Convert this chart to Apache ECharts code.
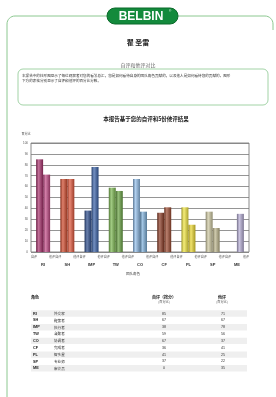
<!DOCTYPE html>
<html>
<head>
<meta charset="utf-8">
<script src="https://cdn.jsdelivr.net/npm/echarts@6/dist/echarts.min.js"></script>
<style>
html,body{margin:0;padding:0;background:#fff}
#main{width:276px;height:397px}
</style>
</head>
<body>
<div id="main"></div>
<script>
// 数据
var roles = ['RI', 'SH', 'IMP', 'TW', 'CO', 'CF', 'PL', 'SP', 'ME'];
var roleNames = ['外交家', '鞭策者', '执行者', '凝聚者', '协调者', '完成者', '智多星', '专业师', '审议员'];
var selfScores = [85, 67, 38, 59, 67, 36, 41, 37, 0];
var otherScores = [71, 67, 78, 56, 37, 41, 25, 22, 35];
var selfColors = ['#a8306c', '#d04a2c', '#2c4c8c', '#7cb850', '#90bce8', '#8a3a24', '#f2e640', '#cfc9a2', '#b4acd4'];
var otherColors = ['#c04884', '#e0563a', '#3a62a8', '#6aa444', '#7caed8', '#9c4a30', '#ecd830', '#bdb68c', '#b4acd4'];

var CJK = '"Noto Sans CJK SC", sans-serif';
var green = '#8cc890';

function shade(hex, p) {
  var n = parseInt(hex.slice(1), 16);
  var r = n >> 16, g = (n >> 8) & 255, b = n & 255;
  function f(c) { return Math.round(p < 0 ? c * (1 + p) : c + (255 - c) * p); }
  return 'rgb(' + f(r) + ',' + f(g) + ',' + f(b) + ')';
}
function cyl(c) {
  return new echarts.graphic.LinearGradient(0, 0, 1, 0, [
    {offset: 0, color: shade(c, -0.35)},
    {offset: 0.35, color: shade(c, 0.3)},
    {offset: 1, color: shade(c, -0.3)}
  ]);
}

// 圆角折线
function corner(cx, cy, r, a0, a1) {
  var pts = [];
  for (var k = 0; k <= 8; k++) {
    var a = a0 + (a1 - a0) * k / 8;
    pts.push([cx + r * Math.cos(a), cy + r * Math.sin(a)]);
  }
  return pts;
}
var framePts = [[7, 397]].concat(corner(15, 24, 8, Math.PI, Math.PI * 1.5)).concat([[107, 16]]);
var framePts2 = [[178, 16]].concat(corner(265, 24, 8, Math.PI * 1.5, Math.PI * 2)).concat([[273, 30]]);

var graphics = [
  {type: 'polyline', shape: {points: framePts}, style: {stroke: green, lineWidth: 1, fill: null}},
  {type: 'polyline', shape: {points: framePts2}, style: {stroke: green, lineWidth: 1, fill: null}},
  {type: 'rect', shape: {x: 107, y: 8, width: 71, height: 16, r: 8}, style: {fill: '#138a3c', stroke: '#0b6a2a', lineWidth: 1}},
  {type: 'text', x: 141, y: 16.5, style: {text: 'BELBIN', fill: '#fff', font: 'bold 12px "Liberation Sans", Arial', align: 'center', verticalAlign: 'middle'}},
  {type: 'text', x: 169, y: 11, style: {text: '®', fill: '#fff', font: '3px "Liberation Sans"', align: 'left', verticalAlign: 'middle'}},
  {type: 'text', x: 138, y: 42, style: {text: '瞿 圣雷', fill: '#222', font: 'bold 7px ' + CJK, align: 'center', verticalAlign: 'middle'}},
  {type: 'text', x: 138, y: 65, style: {text: '自评和他评对比', fill: '#666', font: '5px ' + CJK, align: 'center', verticalAlign: 'middle'}},
  {type: 'rect', shape: {x: 18, y: 69, width: 250, height: 36, r: 5}, style: {fill: null, stroke: green, lineWidth: 0.8}},
  {type: 'text', x: 22, y: 76, style: {text: '本报告中的柱形图显示了每位观察者对您的看法总汇，您是如何看待自身的团队角色贡献的，以及他人是如何看待您的贡献的。图形', fill: '#333', font: '3.6px ' + CJK, align: 'left', verticalAlign: 'middle'}},
  {type: 'text', x: 22, y: 81, style: {text: '下方的表格分别显示了自评和他评的百分比分数。', fill: '#333', font: '3.6px ' + CJK, align: 'left', verticalAlign: 'middle'}},
  {type: 'text', x: 146, y: 119, style: {text: '本报告基于您的自评和5份他评结果', fill: '#222', font: 'bold 5.5px ' + CJK, align: 'center', verticalAlign: 'middle'}},
  {type: 'text', x: 26, y: 134, style: {text: '百分比', fill: '#444', font: '3px ' + CJK, align: 'center', verticalAlign: 'middle'}},
  {type: 'text', x: 133, y: 274, style: {text: '团队角色', fill: '#444', font: '3.5px ' + CJK, align: 'center', verticalAlign: 'middle'}},
  // 表头
  {type: 'text', x: 31, y: 297, style: {text: '角色', fill: '#222', font: 'bold 4px ' + CJK, align: 'left', verticalAlign: 'middle'}},
  {type: 'text', x: 164, y: 297, style: {text: '自评（按分）', fill: '#222', font: 'bold 4px ' + CJK, align: 'center', verticalAlign: 'middle'}},
  {type: 'text', x: 164, y: 302, style: {text: '(百分比)', fill: '#555', font: '3.2px ' + CJK, align: 'center', verticalAlign: 'middle'}},
  {type: 'text', x: 222, y: 297, style: {text: '他评', fill: '#222', font: 'bold 4px ' + CJK, align: 'center', verticalAlign: 'middle'}},
  {type: 'text', x: 222, y: 302, style: {text: '(百分比)', fill: '#555', font: '3.2px ' + CJK, align: 'center', verticalAlign: 'middle'}}
];

// 表格行
roles.forEach(function (r, i) {
  var y = 313.5 + i * 6.85;
  if (i % 2 === 0) {
    graphics.push({type: 'rect', z: -1, shape: {x: 31, y: y - 3.2, width: 216, height: 6.4}, style: {fill: '#efefef'}});
  }
  graphics.push({type: 'text', x: 33, y: y, style: {text: r, fill: '#222', font: 'bold 3.8px "Liberation Sans"', align: 'left', verticalAlign: 'middle'}});
  graphics.push({type: 'text', x: 54, y: y, style: {text: roleNames[i], fill: '#333', font: '3.6px ' + CJK, align: 'left', verticalAlign: 'middle'}});
  graphics.push({type: 'text', x: 164, y: y, style: {text: String(selfScores[i]), fill: '#333', font: '3.6px "Liberation Sans"', align: 'center', verticalAlign: 'middle'}});
  graphics.push({type: 'text', x: 223, y: y, style: {text: String(otherScores[i]), fill: '#333', font: '3.6px "Liberation Sans"', align: 'center', verticalAlign: 'middle'}});
});

var myChart = echarts.init(document.getElementById('main'), null, {renderer: 'canvas'});

var option = {
  animation: false,
  backgroundColor: '#fff',
  grid: {left: 31, top: 143, width: 218, height: 109, show: true, borderColor: '#8a8a8a', borderWidth: 1, backgroundColor: '#fff'},
  xAxis: [{
    type: 'category',
    data: roles,
    axisLine: {show: false},
    axisTick: {show: false},
    axisLabel: {
      interval: 0,
      margin: 3,
      formatter: function () { return '{a|自评}{b|他评}'; },
      rich: {
        a: {width: 12, align: 'left', fontSize: 3, fontFamily: CJK, color: '#555'},
        b: {width: 12, align: 'right', fontSize: 3, fontFamily: CJK, color: '#555'}
      }
    }
  }, {
    type: 'category',
    data: roles,
    position: 'bottom',
    offset: 10,
    axisLine: {show: false},
    axisTick: {show: false},
    axisLabel: {interval: 0, margin: 1, fontSize: 4, fontWeight: 'bold', color: '#333', fontFamily: 'Liberation Sans'}
  }],
  yAxis: {
    type: 'value',
    min: 0,
    max: 100,
    interval: 10,
    axisLine: {show: false},
    axisTick: {show: false},
    axisLabel: {fontSize: 3, color: '#555', margin: 3, fontFamily: 'Liberation Sans'},
    splitLine: {lineStyle: {color: '#7a7a7a', width: 0.8}}
  },
  series: [{
    name: '自评',
    type: 'bar',
    barWidth: 7,
    barGap: '0%',
    data: selfScores.map(function (v, i) { return {value: v, itemStyle: {color: cyl(selfColors[i])}}; })
  }, {
    name: '他评',
    type: 'bar',
    barWidth: 7,
    barGap: '0%',
    data: otherScores.map(function (v, i) { return {value: v, itemStyle: {color: cyl(otherColors[i])}}; })
  }],
  graphic: graphics
};

myChart.setOption(option);
</script>
</body>
</html>
